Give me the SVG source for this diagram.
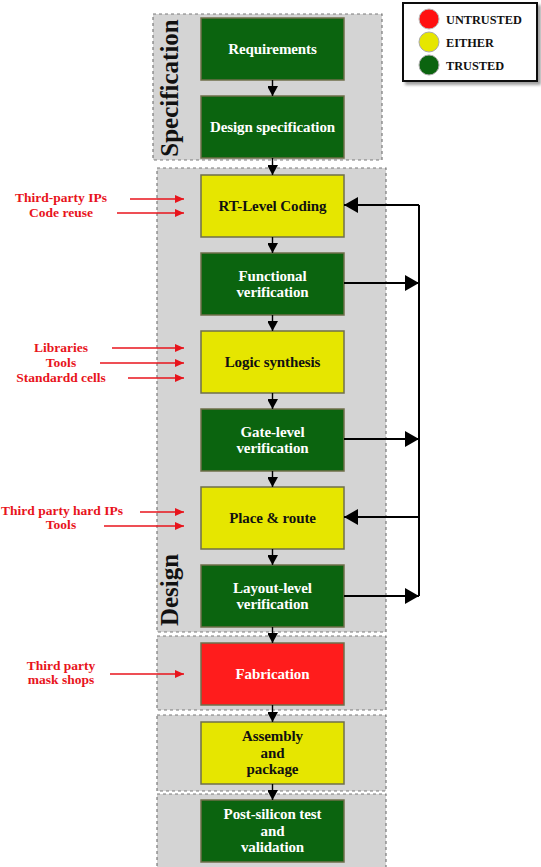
<svg xmlns="http://www.w3.org/2000/svg" width="541" height="867" viewBox="0 0 541 867">
<defs>
<style>
.panel{fill:#d4d4d4;stroke:#7a7a7a;stroke-width:1.2;stroke-dasharray:3 3}
.node rect{stroke:#6f6f4a;stroke-width:1.5}
.g rect{fill:#0b640f}
.y rect{fill:#e6e600}
.r rect{fill:#ff1c1c}
.nt{font-family:"Liberation Serif",serif;font-weight:bold;font-size:15px;text-anchor:middle;letter-spacing:-0.1px}
.g .nt,.r .nt{fill:#fff}
.y .nt{fill:#111}
.side{font-family:"Liberation Serif",serif;font-weight:bold;font-size:25px;text-anchor:middle;fill:#111}
.red{font-family:"Liberation Serif",serif;font-weight:bold;font-size:13.5px;text-anchor:middle;fill:#e8141c}
.leg{font-family:"Liberation Serif",serif;font-weight:bold;font-size:12.3px;fill:#111}
.ra{stroke:#e8141c;stroke-width:1.4;fill:none;marker-end:url(#rh)}
.ba{stroke:#000;stroke-width:1.4;fill:none;marker-end:url(#bh)}
.fb{stroke:#000;stroke-width:2;fill:none}
</style>
<marker id="rh" markerWidth="9" markerHeight="8" refX="9" refY="4" orient="auto" markerUnits="userSpaceOnUse"><path d="M0,0 L9,4 L0,8 Z" fill="#e8141c"/></marker>
<marker id="bh" markerWidth="11" markerHeight="10" refX="10" refY="5.5" orient="auto" markerUnits="userSpaceOnUse"><path d="M0,0 L10,5.5 L0,11 Z" fill="#000"/></marker>
<marker id="bb" markerWidth="15" markerHeight="16" refX="14" refY="8" orient="auto" markerUnits="userSpaceOnUse"><path d="M0,0 L14,8 L0,16 Z" fill="#000"/></marker>
<filter id="sh" x="-10%" y="-10%" width="130%" height="130%"><feDropShadow dx="3" dy="3" stdDeviation="1.5" flood-color="#777" flood-opacity="0.7"/></filter>
</defs>

<g id="panels">
<rect class="panel" x="153" y="14" width="229" height="146"/>
<rect class="panel" x="157" y="168" width="229" height="464"/>
<rect class="panel" x="157" y="636" width="229" height="74"/>
<rect class="panel" x="157" y="715" width="229" height="76"/>
<rect class="panel" x="157" y="794" width="229" height="80"/>
<text class="side" transform="translate(178,88) rotate(-90)">Specification</text>
<text class="side" transform="translate(178,590) rotate(-90)">Design</text>
</g>

<g id="legend">
<rect x="403" y="3" width="134" height="78" fill="#fff" stroke="#111" stroke-width="2" filter="url(#sh)"/>
<circle cx="429" cy="19" r="10" fill="#ff1010" stroke="#bbb" stroke-width="1"/>
<circle cx="429" cy="42" r="10" fill="#e6e600" stroke="#aaa" stroke-width="1"/>
<circle cx="429" cy="65" r="10" fill="#0b640f" stroke="#aaa" stroke-width="1"/>
<text class="leg" x="446" y="24">UNTRUSTED</text>
<text class="leg" x="446" y="47">EITHER</text>
<text class="leg" x="446" y="70">TRUSTED</text>
</g>

<g id="n-req" class="node g"><rect x="201" y="18" width="143" height="62"/><text class="nt" x="272.5" y="54">Requirements</text></g>
<g id="n-dspec" class="node g"><rect x="201" y="96" width="143" height="62"/><text class="nt" x="272.5" y="132">Design specification</text></g>
<g id="n-rtl" class="node y"><rect x="201" y="175" width="143" height="62"/><text class="nt" x="272.5" y="211">RT-Level Coding</text></g>
<g id="n-func" class="node g"><rect x="201" y="253" width="143" height="62"/><text class="nt" x="272.5" y="281">Functional</text><text class="nt" x="272.5" y="297">verification</text></g>
<g id="n-logic" class="node y"><rect x="201" y="331" width="143" height="62"/><text class="nt" x="272.5" y="367">Logic synthesis</text></g>
<g id="n-gate" class="node g"><rect x="201" y="409" width="143" height="62"/><text class="nt" x="272.5" y="437">Gate-level</text><text class="nt" x="272.5" y="453">verification</text></g>
<g id="n-pr" class="node y"><rect x="201" y="487" width="143" height="62"/><text class="nt" x="272.5" y="523">Place &amp; route</text></g>
<g id="n-layout" class="node g"><rect x="201" y="565" width="143" height="62"/><text class="nt" x="272.5" y="593">Layout-level</text><text class="nt" x="272.5" y="609">verification</text></g>
<g id="n-fab" class="node r"><rect x="201" y="643" width="143" height="62"/><text class="nt" x="272.5" y="679">Fabrication</text></g>
<g id="n-asm" class="node y"><rect x="201" y="722" width="143" height="62"/><text class="nt" x="272.5" y="741">Assembly</text><text class="nt" x="272.5" y="758">and</text><text class="nt" x="272.5" y="774">package</text></g>
<g id="n-post" class="node g"><rect x="201" y="800" width="143" height="62"/><text class="nt" x="272.5" y="819">Post-silicon test</text><text class="nt" x="272.5" y="836">and</text><text class="nt" x="272.5" y="852">validation</text></g>

<g id="inputs">
<text class="red" x="61" y="202">Third-party IPs</text>
<text class="red" x="61" y="217">Code reuse</text>
<text class="red" x="61" y="352">Libraries</text>
<text class="red" x="61" y="367">Tools</text>
<text class="red" x="61" y="382">Standardd cells</text>
<text class="red" x="62" y="515">Third party hard IPs</text>
<text class="red" x="61" y="529">Tools</text>
<text class="red" x="61" y="670">Third party</text>
<text class="red" x="61" y="684">mask shops</text>
</g>

<g id="connectors">
<line class="ba" x1="272.5" y1="80" x2="272.5" y2="96"/>
<line class="ba" x1="272.5" y1="158" x2="272.5" y2="175"/>
<line class="ba" x1="272.5" y1="237" x2="272.5" y2="253"/>
<line class="ba" x1="272.5" y1="315" x2="272.5" y2="331"/>
<line class="ba" x1="272.5" y1="393" x2="272.5" y2="409"/>
<line class="ba" x1="272.5" y1="471" x2="272.5" y2="487"/>
<line class="ba" x1="272.5" y1="549" x2="272.5" y2="565"/>
<line class="ba" x1="272.5" y1="627" x2="272.5" y2="643"/>
<line class="ba" x1="272.5" y1="705" x2="272.5" y2="722"/>
<line class="ba" x1="272.5" y1="784" x2="272.5" y2="800"/>

<line class="fb" x1="419" y1="205" x2="419" y2="596"/>
<line class="fb" x1="419" y1="205" x2="344" y2="205" marker-end="url(#bb)"/>
<line class="fb" x1="344" y1="283" x2="419" y2="283" marker-end="url(#bb)"/>
<line class="fb" x1="344" y1="439" x2="419" y2="439" marker-end="url(#bb)"/>
<line class="fb" x1="419" y1="517" x2="344" y2="517" marker-end="url(#bb)"/>
<line class="fb" x1="344" y1="596" x2="419" y2="596" marker-end="url(#bb)"/>

<line class="ra" x1="130" y1="199" x2="184" y2="199"/>
<line class="ra" x1="117" y1="213" x2="184" y2="213"/>
<line class="ra" x1="112" y1="348" x2="184" y2="348"/>
<line class="ra" x1="100" y1="363" x2="184" y2="363"/>
<line class="ra" x1="128" y1="378" x2="184" y2="378"/>
<line class="ra" x1="140" y1="512" x2="184" y2="512"/>
<line class="ra" x1="104" y1="526" x2="184" y2="526"/>
<line class="ra" x1="110" y1="674" x2="184" y2="674"/>
</g>
</svg>
